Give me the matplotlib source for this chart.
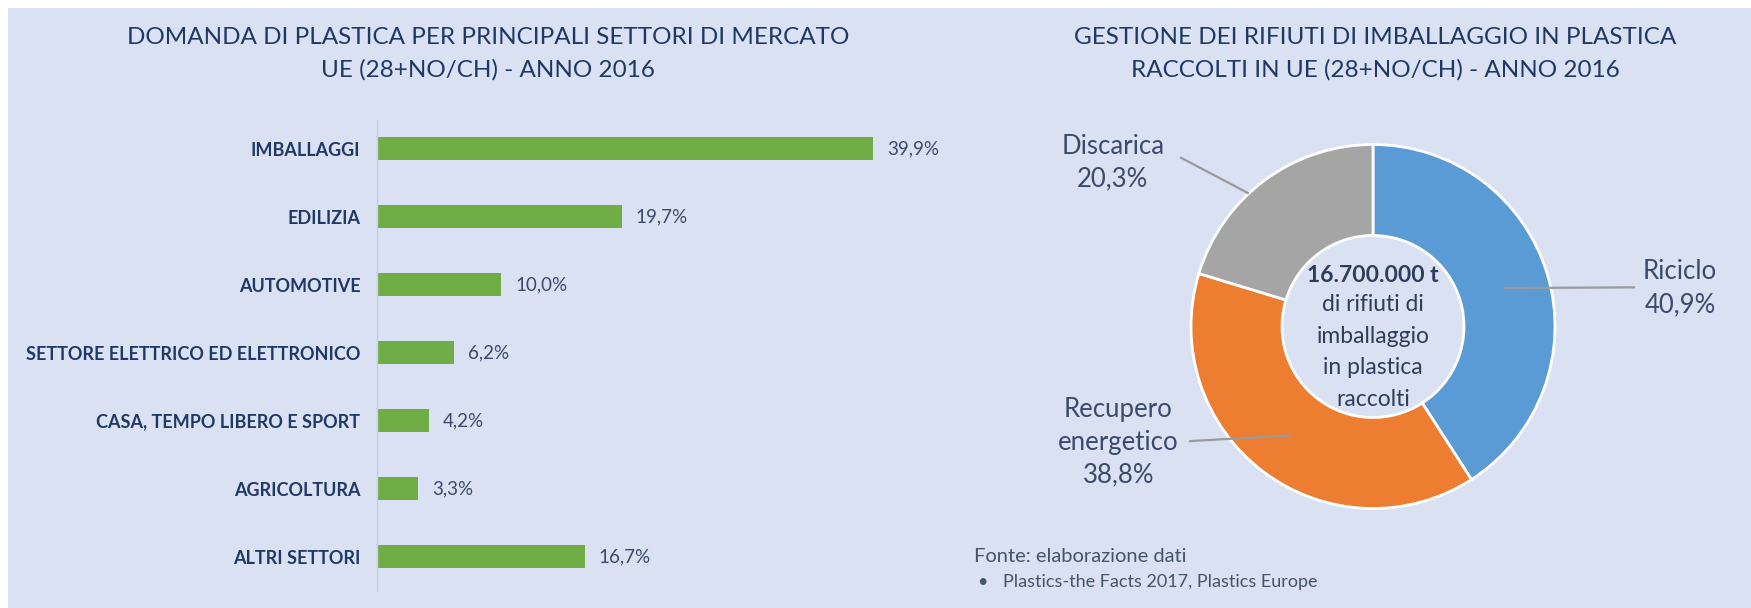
import matplotlib.pyplot as plt
import numpy as np
from matplotlib.patches import Rectangle

# ============================================================
# Data
# ============================================================
sectors = ["IMBALLAGGI", "EDILIZIA", "AUTOMOTIVE", "SETTORE ELETTRICO ED ELETTRONICO",
           "CASA, TEMPO LIBERO E SPORT", "AGRICOLTURA", "ALTRI SETTORI"]
demand_pct = [39.9, 19.7, 10.0, 6.2, 4.2, 3.3, 16.7]

waste_labels = ["Riciclo", "Recupero\nenergetico", "Discarica"]
waste_pct = [40.9, 38.8, 20.3]

title_left = "DOMANDA DI PLASTICA PER PRINCIPALI SETTORI DI MERCATO\nUE (28+NO/CH) - ANNO 2016"
title_right = "GESTIONE DEI RIFIUTI DI IMBALLAGGIO IN PLASTICA\nRACCOLTI IN UE (28+NO/CH) - ANNO 2016"
center_total = "16.700.000 t"
center_desc = "di rifiuti di\nimballaggio\nin plastica\nraccolti"
source_head = "Fonte: elaborazione dati"
source_item = "Plastics-the Facts 2017, Plastics Europe"

# ============================================================
# Style
# ============================================================
W, H = 1751, 608
BG = "#dae1f3"
NAVY = "#1f3864"
TXT = "#3b4a6b"
GREEN = "#70ad47"
PIE_COLORS = ["#5b9bd5", "#ed7d31", "#a5a5a5"]
LEADER = "#9a9a9a"
plt.rcParams["font.family"] = ["Lato", "DejaVu Sans"]


def fx(px):
    return px / W


def fy(py):
    # pixel row (from top) -> figure fraction
    return 1 - py / H


def pct(v):
    return f"{v:.1f}".replace(".", ",") + "%"


fig = plt.figure(figsize=(W / 100, H / 100), dpi=100)
fig.patch.set_facecolor("white")
fig.patches.append(Rectangle((fx(8), 0), 1, fy(8), transform=fig.transFigure,
                             facecolor=BG, edgecolor="none", zorder=-10))

# ------------------------------------------------------------
# Left: horizontal bars
# ------------------------------------------------------------
x0, x_end, xmax = 377, 873, 45.0
px_per = (x_end - x0) / max(demand_pct)
row = 68
top = 148.5 - row / 2
ax1 = fig.add_axes([fx(x0), fy(top + row * len(sectors)), fx(px_per * xmax), row * len(sectors) / H])
ax1.set_facecolor("none")
y = np.arange(len(sectors))
ax1.barh(y, demand_pct, height=0.35, color=GREEN)
ax1.set_xlim(0, xmax)
ax1.set_ylim(len(sectors) - 0.5, -0.5)
ax1.set_yticks(y)
ax1.set_yticklabels(sectors, fontsize=13, fontweight="bold", color=NAVY)
ax1.tick_params(axis="y", length=0, pad=12)
ax1.set_xticks([])
for s in ["top", "right", "bottom"]:
    ax1.spines[s].set_visible(False)
ax1.spines["left"].set_color("#c9d0e2")
ax1.spines["left"].set_linewidth(1)
ax1.spines["left"].set_bounds(-0.42, len(sectors) - 0.5)
for yi, v in zip(y, demand_pct):
    ax1.annotate(pct(v), (v, yi), xytext=(10, 0), textcoords="offset points",
                 va="center", ha="left", fontsize=13.5, color=TXT)

fig.text(fx(488), fy(54), title_left, ha="center", va="center", fontsize=17.5,
         color=NAVY, linespacing=1.6)

# ------------------------------------------------------------
# Right: donut
# ------------------------------------------------------------
cx, cy, R = 1373, 326.5, 182
side = R * 2.2
ax2 = fig.add_axes([fx(cx - side / 2), fy(cy + side / 2), fx(side), side / H])
ax2.set_facecolor("none")
wedges, _ = ax2.pie(waste_pct, colors=PIE_COLORS, startangle=90, counterclock=False,
                    radius=1, wedgeprops=dict(width=0.5, edgecolor="white", linewidth=2))
ax2.set_xlim(-1.1, 1.1)
ax2.set_ylim(-1.1, 1.1)

# label placement (data units of the donut axes): text pos, leader anchor (r, angle shift), leader end
label_pos = [(1.687, 0.21), (-1.40, -0.635), (-1.43, 0.90)]
leader_anchor = [(0.75, 0), (0.75, 0), (1.0, 6.5)]
leader_end = [(1.44, 0.215), (-1.01, -0.63), (-1.06, 0.93)]
for w, lab, v, (tx, ty), (r, dang), (ex, ey) in zip(wedges, waste_labels, waste_pct,
                                                      label_pos, leader_anchor, leader_end):
    ang = np.deg2rad((w.theta1 + w.theta2) / 2 + dang)
    ax2.plot([r * np.cos(ang), ex], [r * np.sin(ang), ey], color=LEADER, lw=1.6,
             clip_on=False, solid_capstyle="butt")
    ax2.text(tx, ty, f"{lab}\n{pct(v)}", ha="center", va="center", fontsize=18.5,
             color=TXT, linespacing=1.4, clip_on=False)

ax2.text(0, (cy - 276) / R, center_total, ha="center", va="center", fontsize=16.5,
         fontweight="bold", color="#2f3d5c")
ax2.text(0, (cy - 352) / R, center_desc, ha="center", va="center", fontsize=16.5,
         color="#2f3d5c", linespacing=1.62)

fig.text(fx(1375), fy(54), title_right, ha="center", va="center", fontsize=17.5,
         color=NAVY, linespacing=1.6)

# source note
fig.text(fx(974), fy(556), source_head, ha="left", va="center", fontsize=14.5, color="#44546a")
fig.text(fx(977), fy(582), "\u2022", ha="left", va="center", fontsize=13, color="#44546a")
fig.text(fx(1003), fy(582), source_item, ha="left", va="center", fontsize=13, color="#44546a")

fig.savefig("out.png", dpi=100, facecolor=fig.get_facecolor())
